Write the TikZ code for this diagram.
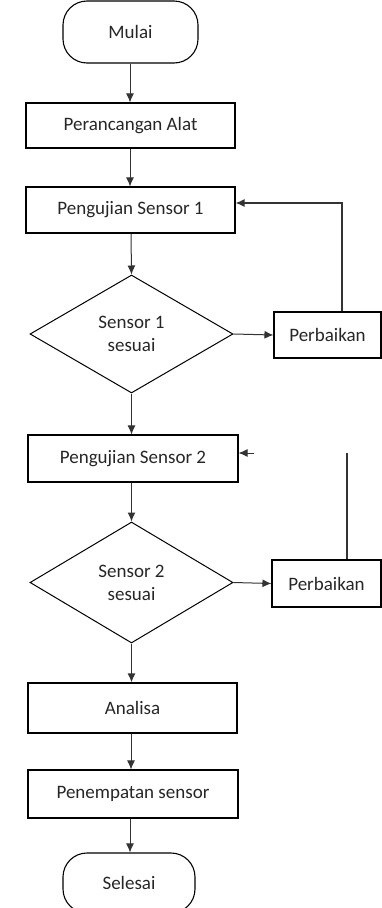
\documentclass[tikz,border=0pt]{standalone}
\usepackage{fontspec}
\setmainfont{Carlito}
\usetikzlibrary{shapes.geometric,arrows.meta}
\begin{document}
\begin{tikzpicture}[x=1pt,y=-1pt,
  base/.style={draw=black,line width=1.1pt,inner sep=0pt,font=\fontsize{19}{23}\selectfont,text=black!85},
  procbox/.style={base,rectangle},
  termbox/.style={base,rectangle,rounded corners=24pt},
  decbox/.style={base,diamond,align=center,line width=1pt},
  conn/.style={draw=black!80,line width=1pt,-{Latex[length=9pt,width=8pt]}},
  plain/.style={draw=black!80,line width=1.3pt}]
\useasboundingbox (0,0) rectangle (382,908);
\node[termbox,minimum width=135pt,minimum height=62pt] (mulai) at (130.5,32) {Mulai};
\node[procbox,minimum width=209pt,minimum height=45pt] (rancang) at (130.5,125.5) {Perancangan Alat};
\node[procbox,minimum width=209pt,minimum height=46pt] (uji1) at (130.5,210) {Pengujian Sensor 1};
\node[decbox,minimum width=203pt,minimum height=118pt] (d1) at (131.5,334) {Sensor 1\\sesuai};
\node[procbox,minimum width=107pt,minimum height=46pt] (fix1) at (327.5,335) {Perbaikan};
\node[procbox,minimum width=210pt,minimum height=47pt] (uji2) at (133,458.5) {Pengujian Sensor 2};
\node[decbox,minimum width=203pt,minimum height=121pt] (d2) at (131.5,582.5) {Sensor 2\\sesuai};
\node[procbox,minimum width=109pt,minimum height=47pt] (fix2) at (326.5,583.5) {Perbaikan};
\node[procbox,minimum width=209pt,minimum height=50pt] (analisa) at (132.5,708) {Analisa};
\node[procbox,minimum width=210pt,minimum height=48pt] (tempat) at (133,794) {Penempatan sensor};
\node[termbox,minimum width=132pt,minimum height=60pt] (selesai) at (129,883) {Selesai};

\coordinate (fb1) at (342,203);
\coordinate (fb2) at (347,453);
\coordinate (stub2) at (254,453);

\draw[conn] (mulai.south -| 130,0) -- (rancang.north -| 130,0);
\draw[conn] (rancang.south -| 130,0) -- (uji1.north -| 130,0);
\draw[conn] (uji1.south -| 131,0) -- (d1.north);
\draw[conn] (d1.east) -- (fix1.west);
\draw[conn] (d1.south) -- (uji2.north -| d1.south);
\draw[conn] (uji2.south -| d2.north) -- (d2.north);
\draw[conn] (d2.east) -- (fix2.west);
\draw[conn,line width=1.4pt] (d2.south) -- (analisa.north -| d2.south);
\draw[conn] (analisa.south -| 131,0) -- (tempat.north -| 131,0);
\draw[conn] (tempat.south -| 130,0) -- (selesai.north -| 130,0);
\draw[plain,-{Latex[length=9pt,width=8pt]}] (fix1.north -| fb1) -- (fb1) -- (fb1 -| uji1.east);
\draw[plain] (fix2.north -| fb2) -- (fb2);
\draw[conn] (stub2) -- (stub2 -| uji2.east);
\end{tikzpicture}
\end{document}
